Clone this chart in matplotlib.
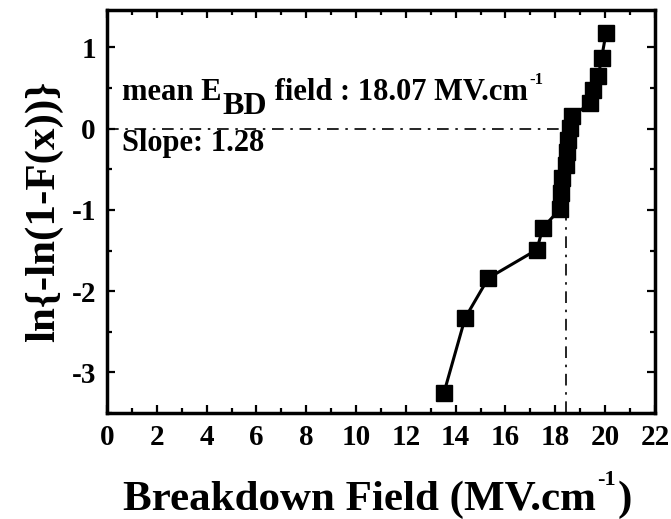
"""
Weibull plot of breakdown field
"""
import matplotlib
matplotlib.use('Agg')
import matplotlib.pyplot as plt
from matplotlib.ticker import MultipleLocator

plt.rcParams['font.family'] = ['Liberation Serif', 'DejaVu Serif']
plt.rcParams['font.weight'] = 'bold'
plt.rcParams['axes.unicode_minus'] = False

# breakdown field (MV/cm) and Weibull ordinate
field = [13.53, 14.38, 15.31, 17.26, 17.50, 18.19, 18.22, 18.28, 18.42,
         18.47, 18.53, 18.60, 18.69, 19.40, 19.53, 19.73, 19.86, 20.04]
weib = [-3.25, -2.33, -1.84, -1.49, -1.22, -0.99, -0.79, -0.61, -0.45,
        -0.29, -0.14, 0.01, 0.16, 0.31, 0.47, 0.65, 0.87, 1.18]

mean_x = 18.42
mean_y = 0.0

ylab = 'ln{-ln(1-F(x))}'

fig = plt.figure(figsize=(6.71, 5.19), dpi=100)
ax = fig.add_axes([0.1595, 0.2042, 0.8165, 0.7765])

# guide lines
ax.plot([0, mean_x], [mean_y, mean_y], color='black', lw=1.2,
        dashes=(7, 4, 1.5, 4), zorder=1)
ax.plot([mean_x, mean_x], [-3.5, mean_y], color='black', lw=1.2,
        dashes=(7, 4, 1.5, 4), zorder=1)

# data
ax.plot(field, weib, color='black', lw=2.2, marker='s', markersize=11,
        zorder=3)

ax.set_xlim(0, 22)
ax.set_ylim(-3.5, 1.46)

# Ticks
ax.xaxis.set_major_locator(MultipleLocator(2))
ax.xaxis.set_minor_locator(MultipleLocator(1))
ax.yaxis.set_major_locator(MultipleLocator(1))
ax.yaxis.set_minor_locator(MultipleLocator(0.5))
ax.tick_params(which='both', direction='in', top=True, right=True,
               width=1.6, labelsize=21)
ax.tick_params(which='major', length=6, pad=8)
ax.tick_params(which='minor', length=3.5)
for s in ax.spines.values():
    s.set_linewidth(2.5)

# y label
ax.set_ylabel(ylab, fontsize=31, fontweight='bold', labelpad=6)

# x label, with a small superscript -1
xl = fig.text(0.183, 0.018, 'Breakdown Field (MV.cm', fontsize=31,
              fontweight='bold', va='baseline')
xs = plt.annotate('-1', xy=(1, 0), xycoords=xl, xytext=(1, 21),
                  textcoords='offset points', fontsize=16,
                  fontweight='bold', va='bottom', annotation_clip=False)
plt.annotate(')', xy=(1, 0), xycoords=(xs, xl), xytext=(1, 0),
             textcoords='offset points', fontsize=31, fontweight='bold',
             va='bottom', annotation_clip=False)

# annotation text
t1 = ax.text(0.6, 0.35, 'mean E', fontsize=22, fontweight='bold',
             va='baseline')
t2 = ax.annotate('BD', xy=(1, 0), xycoords=t1, xytext=(1, -10),
                 textcoords='offset points', fontsize=23, fontweight='bold',
                 va='bottom')
t3 = ax.annotate(' field : 18.07 MV.cm', xy=(1, 0), xycoords=(t2, t1),
                 xytext=(0, 0), textcoords='offset points', fontsize=22,
                 fontweight='bold', va='bottom')
ax.annotate('-1', xy=(1, 0), xycoords=t3, xytext=(1, 14),
            textcoords='offset points', fontsize=12, fontweight='bold',
            va='bottom')
ax.text(0.6, -0.27, 'Slope: 1.28', fontsize=22, fontweight='bold',
        va='baseline')

fig.savefig('out.png', dpi=100)
